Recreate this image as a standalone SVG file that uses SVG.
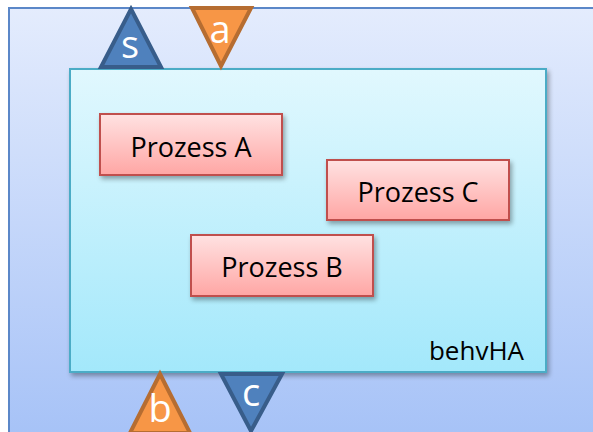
<svg xmlns="http://www.w3.org/2000/svg" width="593" height="432" viewBox="0 0 593 432">
  <defs>
    <linearGradient id="gOuter" x1="0" y1="0" x2="0" y2="1">
      <stop offset="0" stop-color="#e4ecfd"/>
      <stop offset="1" stop-color="#a6c2f7"/>
    </linearGradient>
    <linearGradient id="gInner" x1="0" y1="0" x2="0" y2="1">
      <stop offset="0" stop-color="#e1f8fe"/>
      <stop offset="1" stop-color="#a3e8fb"/>
    </linearGradient>
    <linearGradient id="gProc" x1="0" y1="0" x2="0" y2="1">
      <stop offset="0" stop-color="#ffe2e2"/>
      <stop offset="1" stop-color="#ffa6a4"/>
    </linearGradient>
    <filter id="shadow" x="-10%" y="-10%" width="130%" height="130%">
      <feGaussianBlur in="SourceAlpha" stdDeviation="2.5"/>
      <feOffset dx="2" dy="3" result="b"/>
      <feComponentTransfer><feFuncA type="linear" slope="0.35"/></feComponentTransfer>
      <feMerge><feMergeNode/><feMergeNode in="SourceGraphic"/></feMerge>
    </filter>
  </defs>
  <style>
    .proc { fill: url(#gProc); stroke: #c0504d; stroke-width: 2; filter: url(#shadow); }
    .ptxt { font-family: "Open Sans", "Liberation Sans", sans-serif; font-size: 27px; fill: #000; text-anchor: middle; }
    .blue { fill: #4f81bd; stroke: #385d8a; stroke-width: 4; stroke-linejoin: miter; }
    .orange { fill: #f79646; stroke: #b66d31; stroke-width: 4; stroke-linejoin: miter; }
    .port { font-family: "Open Sans", "Liberation Sans", sans-serif; font-size: 38px; fill: #fff; text-anchor: middle; }
  </style>

  <!-- outer container -->
  <g id="container">
    <rect x="9" y="8" width="600" height="430" fill="url(#gOuter)" stroke="#5b87c8" stroke-width="2"/>
  </g>

  <!-- behavior block -->
  <g id="behvHA">
    <rect x="70" y="69" width="476" height="303" fill="url(#gInner)" stroke="#4bacc6" stroke-width="2" filter="url(#shadow)"/>
    <text x="524" y="360" font-family="Open Sans, Liberation Sans, sans-serif" font-size="26" text-anchor="end" fill="#000">behvHA</text>
  </g>

  <g id="prozessA">
    <rect class="proc" x="100" y="114" width="182" height="61"/>
    <text class="ptxt" x="191" y="157">Prozess A</text>
  </g>
  <g id="prozessC">
    <rect class="proc" x="327" y="160" width="182" height="60"/>
    <text class="ptxt" x="418" y="202">Prozess C</text>
  </g>
  <g id="prozessB">
    <rect class="proc" x="191" y="235" width="182" height="61"/>
    <text class="ptxt" x="282" y="277">Prozess B</text>
  </g>

  <!-- ports -->
  <g id="port-s">
    <polygon class="blue" points="131,9 161,67 101,67"/>
    <text class="port" x="130" y="58">s</text>
  </g>
  <g id="port-a">
    <polygon class="orange" points="192,8 251,8 221,66"/>
    <text class="port" x="220" y="43">a</text>
  </g>
  <g id="port-b">
    <polygon class="orange" points="160,374 190,433 130,433"/>
    <text class="port" x="160" y="422">b</text>
  </g>
  <g id="port-c">
    <polygon class="blue" points="221,374 282,374 251,431"/>
    <text class="port" x="251" y="406">c</text>
  </g>

  <g id="connectors"/>
</svg>
